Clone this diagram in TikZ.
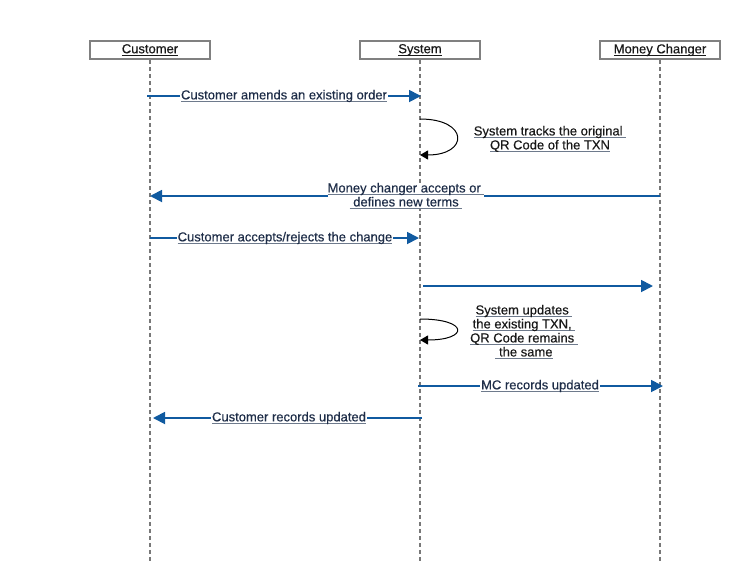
\documentclass[tikz,border=0pt]{standalone}
\usepackage{fontspec}
\setmainfont{Liberation Sans}[FakeBold=0.4]
\usetikzlibrary{arrows.meta}
\definecolor{msgblue}{RGB}{16,90,160}
\definecolor{boxgray}{RGB}{128,128,128}
\definecolor{lifegray}{RGB}{120,120,120}
\definecolor{labtext}{RGB}{30,45,72}
\definecolor{ulc}{RGB}{110,122,140}
\newcommand\myul[1]{\setbox0\hbox{#1}\rlap{\color{ulc}\rule[-2.6pt]{\wd0}{1pt}}\box0}
\newcommand\hdul[1]{\setbox0\hbox{#1}\rlap{\rule[-2.6pt]{\wd0}{0.8pt}}\box0}
\tikzset{
  x=1pt, y=-1pt,
  actorbox/.style={draw=boxgray, line width=1.8pt, fill=white, minimum width=120pt, minimum height=18pt, inner sep=0pt, font=\fontsize{13}{15}\selectfont, text=black!90},
  lifeline/.style={draw=lifegray, line width=1.7pt, dash pattern=on 4.5pt off 2.5pt},
  msg/.style={draw=msgblue, line width=1.8pt, -{Triangle[length=12pt,width=12pt]}},
  selfmsg/.style={draw=black, line width=1pt, -{Triangle[length=8pt,width=9pt]}},
  msglabel/.style={fill=white, inner sep=1pt, font=\fontsize{13}{14}\selectfont, text=labtext, align=center},
  notelabel/.style={inner sep=0pt, font=\fontsize{13}{14}\selectfont, text=black!90, align=center},
}
\begin{document}
\begin{tikzpicture}
\useasboundingbox (0,0) rectangle (742,581);
% actors
\node[actorbox] (cust) at (150,50) {\hdul{Customer}};
\node[actorbox] (sys) at (420,50) {\hdul{System}};
\node[actorbox] (mc) at (660,50) {\hdul{Money Changer}};
% lifeline ends
\coordinate (custend) at (150,561);
\coordinate (sysend) at (420,561);
\coordinate (mcend) at (660,561);
\draw[lifeline] (cust.south) -- (custend);
\draw[lifeline] (sys.south) -- (sysend);
\draw[lifeline] (mc.south) -- (mcend);
% message anchor points
\coordinate (m1a) at (147,96);  \coordinate (m1b) at (421,96);
\coordinate (s1a) at (420,119); \coordinate (s1b) at (420,155);
\coordinate (m3a) at (660,196); \coordinate (m3b) at (150,196);
\coordinate (m4a) at (150,238); \coordinate (m4b) at (419,238);
\coordinate (m5a) at (423,286); \coordinate (m5b) at (653,286);
\coordinate (s2a) at (420,319); \coordinate (s2b) at (420,340);
\coordinate (m7a) at (418,386); \coordinate (m7b) at (663,386);
\coordinate (m8a) at (422,418); \coordinate (m8b) at (153,418);
% messages
\draw[msg] (m1a) -- (m1b);
\node[msglabel] (l1) at (284,96) {\myul{Customer amends an existing order}};
\draw[selfmsg] (s1a) .. controls (469,119) and (469,155) .. (s1b);
\node[notelabel] (l2) at (550,139) {\myul{System tracks the original }\\\myul{QR Code of the TXN}};
\draw[msg] (m3a) -- (m3b);
\node[msglabel, inner sep=0pt] (l3) at (406,196) {\myul{Money changer accepts or }\\\myul{ defines new terms }};
\draw[msg] (m4a) -- (m4b);
\node[msglabel] (l4) at (285,238) {\myul{Customer accepts/rejects the change}};
\draw[msg] (m5a) -- (m5b);
\draw[selfmsg] (s2a) .. controls (469,319) and (469,340) .. (s2b);
\node[notelabel] (l6) at (524,332) {\myul{System updates }\\\myul{the existing TXN, }\\\myul{QR Code remains }\\\myul{ the same}};
\draw[msg] (m7a) -- (m7b);
\node[msglabel] (l7) at (540,386) {\myul{MC records updated}};
\draw[msg] (m8a) -- (m8b);
\node[msglabel] (l8) at (289,418) {\myul{Customer records updated}};
\end{tikzpicture}
\end{document}
